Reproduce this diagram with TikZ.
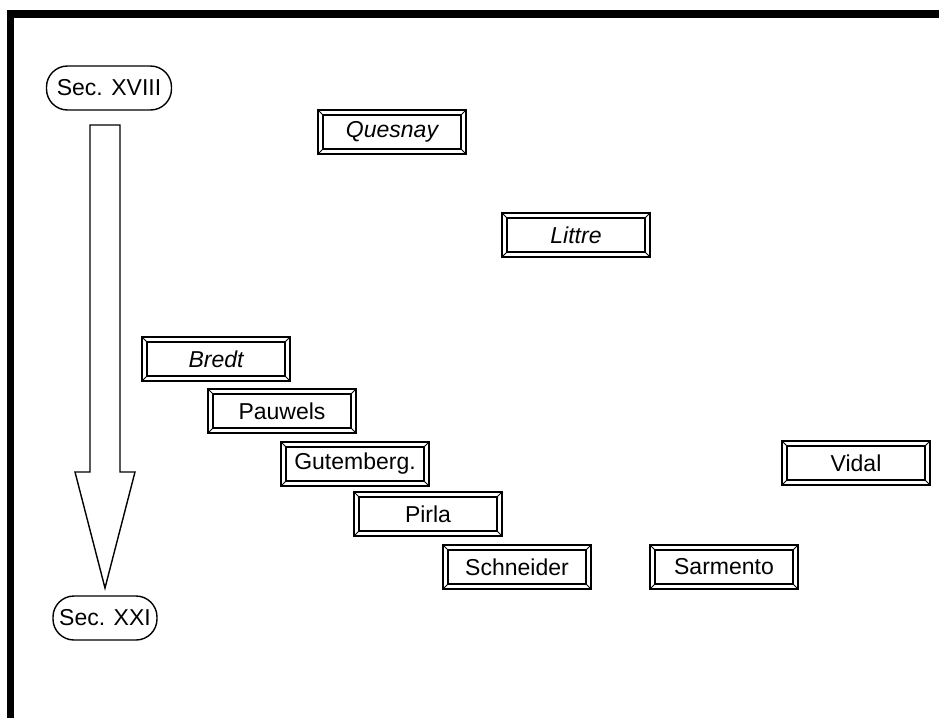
\documentclass[tikz,border=0pt]{standalone}
\usepackage{fontspec}
\setmainfont{Liberation Sans}
\usetikzlibrary{positioning}

\begin{document}
\begin{tikzpicture}[
  x=1pt, y=-1pt,
  txt/.style={font=\fontsize{23}{27}\selectfont},
  bevel/.style={txt, draw, line width=1.6pt, minimum width=148pt, minimum height=44pt, inner sep=0pt,
    path picture={
      \draw[line width=1.4pt] ([shift={(5pt,5pt)}]path picture bounding box.south west) rectangle ([shift={(-5pt,-5pt)}]path picture bounding box.north east);
      \foreach \c/\dx/\dy in {south west/1/1, south east/-1/1, north east/-1/-1, north west/1/-1}
        \draw[line width=0.9pt] (path picture bounding box.\c) -- ++({5pt*\dx},{5pt*\dy});
    }},
  bevelit/.style={bevel, font=\fontsize{23}{27}\selectfont\itshape},
  era/.style={txt, draw, line width=1.4pt, rounded corners=21pt, minimum height=44pt, inner sep=0pt},
  bigarrow/.style={draw, line width=1.4pt, line join=miter, fill=white}
]
\useasboundingbox (0,0) rectangle (939,718);
% frame
\draw[line width=7.5pt] (10.5,718) -- (10.5,14) -- (939,14);

% time line
\node[era, minimum width=125pt] (sec18) at (109,88) {Sec. XVIII};
\node[era, minimum width=104pt] (sec21) at (105,618) {Sec. XXI};
\coordinate (atop) at (105,125);
\coordinate (atip) at (105,588);
\draw[bigarrow] ([xshift=-15pt]atop) -- ([xshift=15pt]atop) -- (120,472) -- (135,472)
  -- (atip) -- (75,472) -- (90,472) -- cycle;

% authors
\node[bevelit] (quesnay) at (392,132) {Quesnay};
\node[bevelit] (littre) at (576,235) {Littre};
\node[bevelit] (bredt) at (216,359) {Bredt};
\node[bevel] (pauwels) at (282,411) {Pauwels};
\node[bevel] (gutemberg) at (355,464) {Gutemberg.};
\node[bevel] (pirla) at (428,514) {Pirla};
\node[bevel] (schneider) at (517,567) {Schneider};
\node[bevel] (sarmento) at (724,567) {Sarmento};
\node[bevel] (vidal) at (856,463) {Vidal};
\end{tikzpicture}
\end{document}
